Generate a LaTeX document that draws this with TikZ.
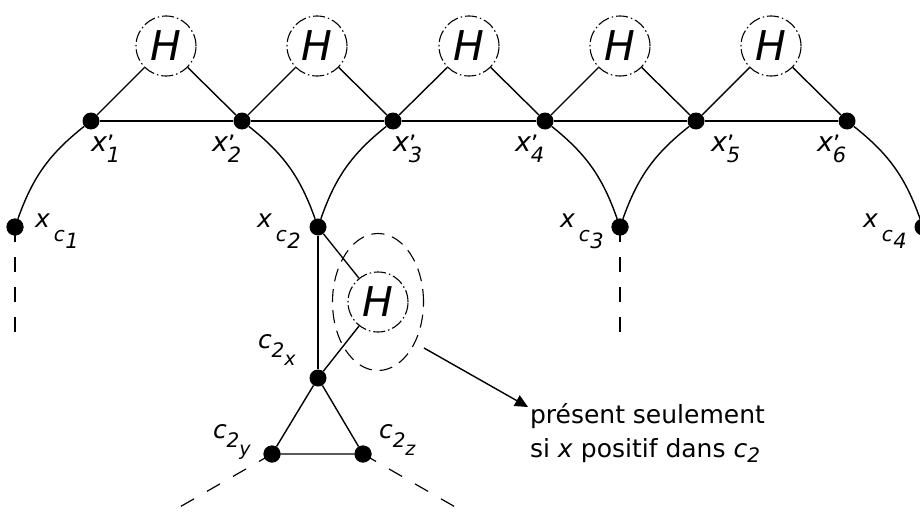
\documentclass[tikz,border=0pt]{standalone}
\usepackage{fontspec}
\setmainfont{DejaVu Sans}
\usetikzlibrary{arrows.meta,shapes.geometric}
\newcommand\fs[1]{\fontsize{#1}{#1}\selectfont}
\newcommand\lowr[3]{\raisebox{-#1pt}{\fs{#2}#3}}
\newcommand\xp[1]{\fs{27}\itshape x\rlap{\upshape\raisebox{-1.5pt}{\fs{24}'}}\lowr{11}{21}{#1}}
\newcommand\xc[1]{\fs{25}\itshape x\hspace{4pt}\lowr{14}{20}{c\hspace{0.5pt}\lowr{7}{21}{#1}}}
\newcommand\cc[1]{\fs{25}\itshape c\lowr{9}{20}{2\lowr{8}{19}{#1}}}
\tikzset{
  vtx/.style={circle,fill=black,inner sep=0pt,minimum size=17pt},
  hgad/.style={circle,draw=black,line width=1.1pt,dash pattern=on 12pt off 3pt on 1.5pt off 3pt,minimum size=60pt,inner sep=0pt,font=\fs{41}\itshape},
  edge/.style={draw=black,line width=1.4pt},
  dashe/.style={draw=black,line width=1.2pt,dash pattern=on 15pt off 15pt},
  lab/.style={anchor=base west,inner sep=0pt,outer sep=0pt},
}
\begin{document}
\begin{tikzpicture}[x=1pt,y=-1pt]
\path[use as bounding box] (0,0) rectangle (920,511);
\clip (0,0) rectangle (920,511);
\node[vtx] (a1) at (91,121) {};
\node[vtx] (a2) at (242,121) {};
\node[vtx] (a3) at (393,121) {};
\node[vtx] (a4) at (545,121) {};
\node[vtx] (a5) at (696,121) {};
\node[vtx] (a6) at (847,121) {};
\node[vtx] (c1) at (15,227) {};
\node[vtx] (c2) at (318,227) {};
\node[vtx] (c3) at (620,227) {};
\node[vtx] (c4) at (923,227) {};
\node[vtx] (cx) at (318,378) {};
\node[vtx] (cy) at (272,454) {};
\node[vtx] (cz) at (363,454) {};
\node[hgad] (h1) at (166,46) {H};
\node[hgad] (h2) at (317,46) {H};
\node[hgad] (h3) at (469,46) {H};
\node[hgad] (h4) at (620,46) {H};
\node[hgad] (h5) at (771,46) {H};
\node[hgad] (h6) at (378,302) {H};
\coordinate (d1) at (15,333);
\coordinate (d3) at (620,333);
\coordinate (dy) at (178,508);
\coordinate (dz) at (457,508);
\node[draw=black,line width=1.1pt,dash pattern=on 13pt off 8pt,ellipse,minimum width=91pt,minimum height=137pt,inner sep=0pt] (el) at (378,302) {};
\coordinate (as) at (424,348);
\coordinate (ae) at (528,407);
\path[edge] (a1) -- (a2) -- (a3) -- (a4) -- (a5) -- (a6);
\path[edge] (a1) -- (h1) (h1) -- (a2) (a2) -- (h2) (h2) -- (a3) (a3) -- (h3) (h3) -- (a4) (a4) -- (h4) (h4) -- (a5) (a5) -- (h5) (h5) -- (a6);
\path[edge] (c1) to[bend left=16] (a1);
\path[edge] (a2) to[bend left=16] (c2);
\path[edge] (c2) to[bend left=16] (a3);
\path[edge] (a4) to[bend left=16] (c3);
\path[edge] (c3) to[bend left=16] (a5);
\path[edge] (a6) to[bend left=16] (c4);
\path[edge] (c2) -- (cx);
\path[edge] (c2) -- (h6);
\path[edge] (h6) -- (cx);
\path[edge] (cx) -- (cy) -- (cz) -- (cx);
\path[dashe] (c1.center) -- (d1);
\path[dashe] (c3.center) -- (d3);
\path[dashe] (cy.center) -- (dy);
\path[dashe] (cz.center) -- (dz);
\path[edge,-{Triangle[length=13pt,width=12pt]}] (as) -- (ae);
\node[vtx] at (c1) {};
\node[vtx] at (c3) {};
\node[vtx] at (cy) {};
\node[vtx] at (cz) {};
\node[lab] (l1) at (91,151) {\xp{1}};
\node[lab] (l2) at (212,151) {\xp{2}};
\node[lab] (l3) at (393,151) {\xp{3}};
\node[lab] (l4) at (515,151) {\xp{4}};
\node[lab] (l5) at (711,151) {\xp{5}};
\node[lab] (l6) at (817,151) {\xp{6}};
\node[lab] (m1) at (35,227) {\xc{1}};
\node[lab] (m2) at (257,227) {\xc{2}};
\node[lab] (m3) at (560,227) {\xc{3}};
\node[lab] (m4) at (863,227) {\xc{4}};
\node[lab] (n1) at (258,348) {\cc{x}};
\node[lab] (n2) at (213,438) {\cc{y}};
\node[lab] (n3) at (379,438) {\cc{z}};
\node[lab,align=left,font=\fs{25}] (t) at (530,457) {présent seulement\\[9pt]si \textit{x} positif dans \textit{c}\lowr{5}{20}{\textit{2}}};
\end{tikzpicture}
\end{document}
